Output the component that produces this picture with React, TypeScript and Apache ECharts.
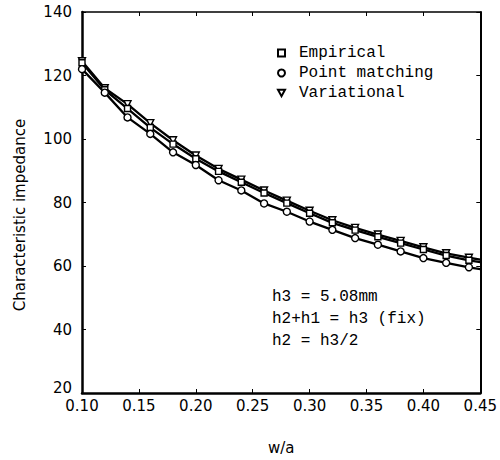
import React, { useEffect, useRef } from "react";
import * as echarts from "echarts";

const wa = [0.10, 0.12, 0.14, 0.16, 0.18, 0.20, 0.22, 0.24, 0.26, 0.28, 0.30, 0.32, 0.34, 0.36, 0.38, 0.40, 0.42, 0.44, 0.45];
const empirical = [124, 115.5, 109.6, 103.6, 98.4, 93.8, 89.8, 86.4, 83, 79.8, 76.6, 73.6, 71.3, 69.2, 67.2, 65.2, 63.3, 61.8, 61.2];
const variational = [124.5, 116, 111, 105, 99.6, 94.8, 90.6, 87.2, 83.8, 80.6, 77.4, 74.4, 72, 69.9, 67.9, 65.9, 64, 62.6, 62.0];
const pointMatching = [122, 114.6, 106.8, 101.6, 95.8, 91.8, 87, 83.8, 79.7, 77.1, 74, 71.4, 68.8, 66.7, 64.6, 62.5, 61, 59.6, 59.0];
// the last x (0.45) is where the curves meet the frame; no marker is drawn there
const markerCount = 18;

const seriesNames = ["Empirical", "Point matching", "Variational"];
const notes = ["h3 = 5.08mm", "h2+h1 = h3 (fix)", "h2 = h3/2"];
const yName = "Characteristic impedance";

const tickFont = "DejaVu Sans";
const textFont = "Liberation Mono";

function build(values: number[]) {
  return values.map((v, i) => (i < markerCount ? [wa[i], v] : { value: [wa[i], v], symbol: "none" }));
}

export default function App() {
  const ref = useRef<HTMLDivElement>(null);
  useEffect(() => {
    if (!ref.current) return;
    const chart = echarts.init(ref.current, undefined, { renderer: "svg" });
    const lineStyle = { color: "#000", width: 2.3 };
    const itemStyle = { color: "#fff", borderColor: "#000", borderWidth: 1.4 };
    chart.setOption({
      animation: false,
      backgroundColor: "#fff",
      grid: { left: 82, right: 19, top: 12, bottom: 64 },
      xAxis: [
        {
          type: "value",
          min: 0.1,
          max: 0.45,
          interval: 0.05,
          name: "w/a",
          nameLocation: "middle",
          nameGap: 47,
          nameTextStyle: { fontFamily: tickFont, fontSize: 15, color: "#000" },
          axisLine: { show: true, lineStyle: { color: "#000", width: 2.5 } },
          axisTick: { show: true, inside: true, length: 4, lineStyle: { color: "#000", width: 1 } },
          axisLabel: {
            fontFamily: tickFont,
            fontSize: 15,
            color: "#000",
            margin: 5,
            formatter: (v: number) => v.toFixed(2),
          },
          splitLine: { show: false },
        },
        {
          type: "value",
          position: "top",
          min: 0.1,
          max: 0.45,
          interval: 0.05,
          axisLine: { show: true, lineStyle: { color: "#000", width: 1.5 } },
          axisTick: { show: true, inside: true, length: 4, lineStyle: { color: "#000", width: 1 } },
          axisLabel: { show: false },
          splitLine: { show: false },
        },
      ],
      yAxis: [
        {
          type: "value",
          min: 20,
          max: 140,
          interval: 20,
          axisLine: { show: true, lineStyle: { color: "#000", width: 2.5 } },
          axisTick: { show: true, inside: true, length: 4, lineStyle: { color: "#000", width: 1 } },
          axisLabel: {
            fontFamily: tickFont,
            fontSize: 15,
            color: "#000",
            margin: 10,
            formatter: (v: number) => (v === 20 ? "{low|" + v + "}" : String(v)),
            rich: {
              low: { fontFamily: tickFont, fontSize: 15, color: "#000", padding: [0, 0, 10, 0] },
            },
          },
          splitLine: { show: false },
        },
        {
          type: "value",
          position: "right",
          min: 20,
          max: 140,
          interval: 20,
          axisLine: { show: true, lineStyle: { color: "#000", width: 2 } },
          axisTick: { show: true, inside: true, length: 4, lineStyle: { color: "#000", width: 1 } },
          axisLabel: { show: false },
          splitLine: { show: false },
        },
      ],
      legend: {
        orient: "vertical",
        left: 272,
        top: 40,
        itemWidth: 7,
        itemHeight: 7,
        itemGap: 4,
        selectedMode: false,
        textStyle: { fontFamily: textFont, fontSize: 16, color: "#000", padding: [0, 0, 0, 9] },
        itemStyle: { color: "#fff", borderColor: "#000", borderWidth: 2 },
        data: [
          { name: seriesNames[0], icon: "rect" },
          { name: seriesNames[1], icon: "circle" },
          { name: seriesNames[2], icon: "path://M0,0L10,0L5,9Z" },
        ],
      },
      graphic: [
        ...notes.map((t, i) => ({
          type: "text",
          left: 272,
          top: 289 + i * 22,
          style: { text: t, fontFamily: textFont, fontSize: 16, fill: "#000" },
        })),
        {
          type: "text",
          x: 20,
          y: 215,
          rotation: Math.PI / 2,
          style: {
            text: yName,
            fontFamily: tickFont,
            fontSize: 15,
            fill: "#000",
            align: "center",
            verticalAlign: "middle",
          },
        },
      ],
      series: [
        {
          name: seriesNames[0],
          type: "line",
          data: build(empirical),
          symbol: "rect",
          symbolSize: 6,
          lineStyle,
          itemStyle,
          z: 3,
        },
        {
          name: seriesNames[1],
          type: "line",
          data: build(pointMatching),
          symbol: "circle",
          symbolSize: 7,
          lineStyle,
          itemStyle,
          z: 3,
        },
        {
          name: seriesNames[2],
          type: "line",
          data: build(variational),
          symbol: "triangle",
          symbolRotate: 180,
          symbolSize: 7,
          lineStyle,
          itemStyle,
          z: 2,
        },
      ],
    });
    return () => chart.dispose();
  }, []);
  return <div ref={ref} style={{ position: "absolute", left: 0, top: 0, width: 500, height: 460 }} />;
}
